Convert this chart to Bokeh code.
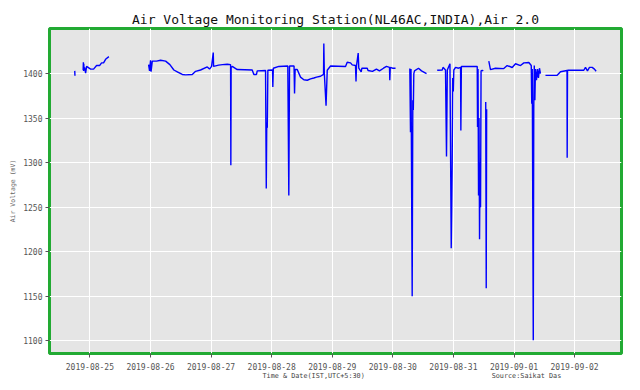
import pandas as pd
from bokeh.plotting import figure
from bokeh.models import Range1d, FixedTicker, DatetimeTickFormatter, Title, ColumnDataSource
from bokeh.embed import file_html
from bokeh.resources import INLINE

nan = float("nan")

# Air voltage readings (mV); nan marks gaps in the record
times = [
    "2019-08-24 18:00", "2019-08-24 18:05", "2019-08-24 19:30",
    "2019-08-24 21:20", "2019-08-24 21:25", "2019-08-24 21:30", "2019-08-24 21:35", "2019-08-24 21:40",
    "2019-08-24 21:54", "2019-08-24 22:18", "2019-08-24 22:42", "2019-08-25 00:17", "2019-08-25 01:28",
    "2019-08-25 02:39", "2019-08-25 03:50", "2019-08-25 04:38", "2019-08-25 05:25", "2019-08-25 06:13",
    "2019-08-25 07:31", "2019-08-25 12:00",
    "2019-08-25 23:15", "2019-08-25 23:38", "2019-08-26 00:02", "2019-08-26 00:14", "2019-08-26 00:43",
    "2019-08-26 02:25", "2019-08-26 04:00", "2019-08-26 06:00", "2019-08-26 07:41", "2019-08-26 09:16",
    "2019-08-26 10:37", "2019-08-26 12:36", "2019-08-26 13:54", "2019-08-26 16:33", "2019-08-26 17:52",
    "2019-08-26 19:50", "2019-08-26 22:30", "2019-08-26 23:24", "2019-08-27 00:12", "2019-08-27 00:52",
    "2019-08-27 01:00", "2019-08-27 03:00", "2019-08-27 04:33", "2019-08-27 06:25", "2019-08-27 07:44",
    "2019-08-27 07:50", "2019-08-27 07:57", "2019-08-27 08:24", "2019-08-27 10:22", "2019-08-27 16:18",
    "2019-08-27 16:57", "2019-08-27 18:00", "2019-08-27 18:17", "2019-08-27 21:35", "2019-08-27 21:52",
    "2019-08-27 22:04", "2019-08-27 22:16", "2019-08-27 22:30", "2019-08-28 00:21", "2019-08-28 00:28",
    "2019-08-28 00:40", "2019-08-28 02:51", "2019-08-28 06:24", "2019-08-28 06:48", "2019-08-28 07:05",
    "2019-08-28 08:52", "2019-08-28 09:04", "2019-08-28 09:18", "2019-08-28 10:08", "2019-08-28 11:26",
    "2019-08-28 12:45", "2019-08-28 14:06", "2019-08-28 15:24", "2019-08-28 16:43", "2019-08-28 17:47",
    "2019-08-28 19:22", "2019-08-28 20:33", "2019-08-28 20:40", "2019-08-28 20:52", "2019-08-28 21:33",
    "2019-08-28 22:01", "2019-08-28 23:20", "2019-08-29 05:16", "2019-08-29 05:56", "2019-08-29 07:15",
    "2019-08-29 07:55", "2019-08-29 09:13", "2019-08-29 09:25", "2019-08-29 09:37", "2019-08-29 10:17",
    "2019-08-29 10:31", "2019-08-29 11:28", "2019-08-29 11:45", "2019-08-29 13:52", "2019-08-29 14:11",
    "2019-08-29 15:56", "2019-08-29 17:30", "2019-08-29 18:43", "2019-08-29 20:18", "2019-08-29 21:29",
    "2019-08-29 22:41", "2019-08-29 22:48", "2019-08-29 23:00", "2019-08-29 23:52", "2019-08-30 01:04",
    "2019-08-30 03:00",
    "2019-08-30 06:44", "2019-08-30 07:00", "2019-08-30 07:12", "2019-08-30 07:40", "2019-08-30 07:55",
    "2019-08-30 08:07", "2019-08-30 08:19", "2019-08-30 08:35", "2019-08-30 10:10", "2019-08-30 11:22",
    "2019-08-30 13:21", "2019-08-30 15:00",
    "2019-08-30 17:35", "2019-08-30 19:34", "2019-08-30 19:53", "2019-08-30 20:52", "2019-08-30 21:16",
    "2019-08-30 21:35", "2019-08-30 22:10", "2019-08-30 22:38", "2019-08-30 23:08", "2019-08-30 23:20",
    "2019-08-30 23:31", "2019-08-30 23:43", "2019-08-30 23:57", "2019-08-31 00:10", "2019-08-31 00:51",
    "2019-08-31 02:02", "2019-08-31 02:50", "2019-08-31 02:57", "2019-08-31 03:09", "2019-08-31 06:00",
    "2019-08-31 09:26", "2019-08-31 09:33", "2019-08-31 09:45", "2019-08-31 09:57", "2019-08-31 10:09",
    "2019-08-31 10:21", "2019-08-31 10:33", "2019-08-31 10:45", "2019-08-31 10:57", "2019-08-31 11:24",
    "2019-08-31 11:50", "2019-08-31 12:20",
    "2019-08-31 12:48", "2019-08-31 13:00", "2019-08-31 13:10", "2019-08-31 13:40",
    "2019-08-31 14:01", "2019-08-31 14:41", "2019-08-31 16:40", "2019-08-31 19:57", "2019-08-31 21:18",
    "2019-08-31 23:17", "2019-09-01 00:36", "2019-09-01 02:35", "2019-09-01 03:54", "2019-09-01 05:53",
    "2019-09-01 06:50", "2019-09-01 07:02", "2019-09-01 07:14", "2019-09-01 07:26", "2019-09-01 07:38",
    "2019-09-01 07:50", "2019-09-01 08:02", "2019-09-01 08:16", "2019-09-01 08:30", "2019-09-01 08:54",
    "2019-09-01 09:18", "2019-09-01 09:41", "2019-09-01 10:05", "2019-09-01 10:29", "2019-09-01 11:30",
    "2019-09-01 12:28", "2019-09-01 17:06", "2019-09-01 18:25", "2019-09-01 21:00", "2019-09-01 21:04",
    "2019-09-01 21:12", "2019-09-02 00:21", "2019-09-02 03:39", "2019-09-02 04:19", "2019-09-02 05:06",
    "2019-09-02 05:54", "2019-09-02 06:58", "2019-09-02 07:52", "2019-09-02 08:32",
]
voltages = [
    1403, 1397.6, nan,
    1404, 1412.7, 1403, 1411, 1404,
    1407, 1400.5, 1408, 1405, 1405,
    1409, 1409, 1412, 1412, 1416,
    1419, nan,
    1410, 1403, 1415, 1402, 1414,
    1414, 1415, 1414, 1410, 1404,
    1402, 1399, 1398.5, 1399, 1402.5,
    1404, 1407.4, 1405, 1408, 1423.6,
    1408, 1409.5, 1410, 1410.5, 1410,
    1297, 1407, 1408, 1404.5, 1404,
    1399, 1399, 1403, 1403.5, 1271,
    1345, 1339, 1403.7, 1404, 1385,
    1406, 1408, 1408.5, 1263, 1408.5,
    1408.5, 1377.5, 1404.5, 1404.5, 1396,
    1393, 1392.5, 1394, 1395, 1396,
    1397, 1399, 1433.7, 1400, 1364,
    1403.7, 1408.5, 1408, 1412.7, 1412,
    1409.7, 1409, 1391, 1409, 1423,
    1406, 1402, 1406, 1406, 1403.4,
    1402.5, 1405, 1403, 1406, 1408,
    1407, 1392.5, 1407, 1406, 1406,
    nan,
    1405.6, 1334, 1405, 1150, 1370,
    1359, 1400, 1403, 1406, 1403,
    1400, nan,
    1403.7, 1404, 1407, 1404, 1307,
    1404, 1408, 1411, 1204, 1250,
    1300, 1395, 1380, 1404, 1407,
    1406, 1407, 1336, 1408, 1408,
    1408, 1340, 1405, 1263, 1350,
    1214, 1300, 1250, 1403, 1403.7,
    1403, nan,
    1368, 1159, 1360, nan,
    1414, 1404.5, 1406, 1405.6, 1409,
    1406.8, 1411, 1409, 1412, 1412.4,
    1409, 1366, 1405, 1250, 1100.7,
    1360, 1409, 1370, 1405, 1392.5,
    1405, 1395, 1406, 1400, nan,
    1398, 1398, 1402, 1403.5, 1305.5,
    1403.7, 1403.7, 1403.7, 1407, 1403,
    1407, 1407, 1405, 1402.6,
]
day_ticks = ["2019-08-25", "2019-08-26", "2019-08-27", "2019-08-28", "2019-08-29",
             "2019-08-30", "2019-08-31", "2019-09-01", "2019-09-02"]
y_ticks = [1100, 1150, 1200, 1250, 1300, 1350, 1400]

FONT = "DejaVu Sans Mono"
t = pd.to_datetime(times)
src = ColumnDataSource(dict(t=t, v=voltages))

p = figure(width=632, height=382, x_axis_type="datetime",
           output_backend="svg", toolbar_location=None,
           x_range=Range1d(pd.Timestamp("2019-08-24 08:00"), pd.Timestamp("2019-09-02 18:35")),
           y_range=Range1d(1085.7, 1450.6),
           min_border_left=49, min_border_right=11, min_border_top=28, min_border_bottom=29)

p.title.text = "Air Voltage Monitoring Station(NL46AC,INDIA),Air 2.0"
p.title.text_font = FONT
p.title.text_font_size = "13px"
p.title.text_font_style = "normal"
p.title.align = "center"
p.title.standoff = 4
p.title.text_color = "#111111"

p.background_fill_color = "#e5e5e5"
p.border_fill_color = "white"
p.outline_line_color = "#22aa33"
p.outline_line_width = 3
p.grid.grid_line_color = "white"
p.grid.grid_line_width = 1

p.xaxis.ticker = FixedTicker(ticks=[pd.Timestamp(d).value / 1e6 for d in day_ticks])
p.xaxis.formatter = DatetimeTickFormatter(days="%Y-%m-%d", months="%Y-%m-%d", hours="%Y-%m-%d",
                                          years="%Y-%m-%d")
p.yaxis.ticker = FixedTicker(ticks=y_ticks)

for ax in (p.xaxis, p.yaxis):
    ax.axis_line_color = None
    ax.major_tick_line_color = "#555555"
    ax.major_tick_out = 4
    ax.major_tick_in = 0
    ax.minor_tick_line_color = None
    ax.major_label_text_font = FONT
    ax.major_label_text_font_size = "8px"
    ax.major_label_text_color = "#555555"
    ax.major_label_standoff = 3
p.xaxis.major_label_standoff = 5

p.yaxis.axis_label = "Air Voltage (mV)"
p.yaxis.axis_label_text_font = FONT
p.yaxis.axis_label_text_font_size = "6.5px"
p.yaxis.axis_label_text_font_style = "normal"
p.yaxis.axis_label_text_color = "#666666"
p.yaxis.axis_label_standoff = 3

p.line("t", "v", source=src, line_color="blue", line_width=1.4)

# x label and source note on one row below the axis
gap = "\u00a0" * 31
note = Title(text="Time & Date(IST,UTC+5:30)" + gap + "Source:Saikat Das",
             align="left", offset=213, standoff=-5,
             text_font=FONT, text_font_size="6.8px", text_font_style="normal",
             text_color="#444444")
p.add_layout(note, "below")

open("out.html", "w").write(file_html(p, INLINE))
